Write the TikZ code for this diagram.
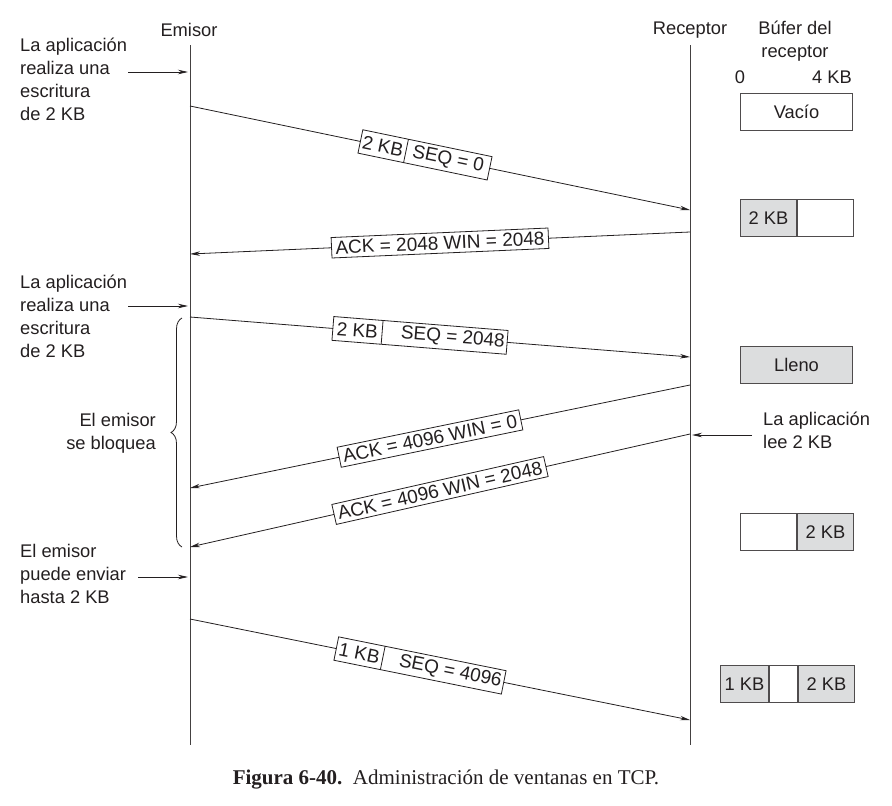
\documentclass[tikz,border=0pt]{standalone}
\usepackage{fontspec}
\setmainfont{Liberation Sans}
\newfontfamily\capfont{Liberation Serif}
\usetikzlibrary{arrows.meta, shapes.multipart, decorations.pathreplacing}
\definecolor{ink}{HTML}{231F20}
\definecolor{bufgray}{HTML}{DCDDDE}

\begin{document}
\begin{tikzpicture}[x=1pt, y=-1pt, >={Stealth[length=10pt, width=4.5pt]},
    font=\fontsize{18.3}{23}\selectfont, text=ink,
    life/.style={draw=ink!85, line width=0.9pt},
    msg/.style={->, draw=ink, line width=0.8pt},
    seg/.style={draw=ink, fill=white, sloped, font=\fontsize{19}{23}\selectfont, inner xsep=4pt, inner ysep=3.5pt, line width=0.8pt},
    pkt/.style={seg, inner xsep=2.5pt, rectangle split, rectangle split horizontal, rectangle split parts=2},
    note/.style={align=left, anchor=north west, inner sep=0pt},
    buf/.style={draw=ink!80, line width=1pt, minimum height=37pt, inner sep=0pt, anchor=north west}]

\useasboundingbox (0,0) rectangle (892,806);

% headers
\node (emi) at (189,30) {Emisor};
\node (rec) at (690,30) {Receptor};
\node[align=center] (buft) at (795,41) {Búfer del\\receptor};
\node (cero) at (740,77) {0};
\node[anchor=east, inner sep=0pt] (cuatro) at (852,77) {4 KB};

% lifelines
\coordinate (e0) at (190,45);
\coordinate (eN) at (190,745);
\coordinate (r0) at (690,45);
\coordinate (rN) at (690,745);
\draw[life] (e0) -- (eN);
\draw[life] (r0) -- (rN);

% message ends
\coordinate (e1) at (190,106);
\coordinate (r1) at (690,210);
\coordinate (r2) at (690,232);
\coordinate (e2) at (190,254);
\coordinate (e3) at (190,317);
\coordinate (r3) at (690,357);
\coordinate (r4) at (690,385);
\coordinate (e4) at (190,488);
\coordinate (r5) at (690,434);
\coordinate (e5) at (190,547);
\coordinate (e6) at (190,619);
\coordinate (r6) at (690,720);

\path
    (e1) edge[msg] node[pkt, pos=.47] {2 KB\nodepart{two}\makebox[80pt]{SEQ = 0}} (r1)
    (r2) edge[msg] node[seg, pos=.5] {ACK = 2048 WIN = 2048} (e2)
    (e3) edge[msg] node[pkt, pos=.46] {\makebox[44pt]{2 KB}\nodepart{two}\makebox[120pt][r]{SEQ = 2048}} (r3)
    (r4) edge[msg] node[seg, pos=.52] {ACK = 4096 WIN = 0} (e4)
    (r5) edge[msg] node[seg, pos=.5] {ACK = 4096 WIN = 2048} (e5)
    (e6) edge[msg] node[pkt, pos=.46] {\makebox[42pt]{1 KB}\nodepart{two}\makebox[118pt][r]{SEQ = 4096}} (r6)
;

% notes on the sender side
\node[note] (n1) at (20,38) {La aplicación\\realiza una\\escritura\\de 2 KB};
\coordinate (a1) at (128,72);
\coordinate (s1) at (188,72);
\draw[msg] (a1) -- (s1);

\node[note] (n2) at (20,275) {La aplicación\\realiza una\\escritura\\de 2 KB};
\coordinate (a2) at (128,306);
\coordinate (s2) at (188,306);
\draw[msg] (a2) -- (s2);

\coordinate (bb) at (182,547);
\coordinate (bt) at (182,318);
\draw[ink, line width=0.8pt, decorate, decoration={brace, amplitude=11pt}] (bb) -- (bt);
\node[align=right, anchor=east, inner sep=0pt] (blq) at (156,433) {El emisor\\se bloquea};

\node[note] (n3) at (20,544) {El emisor\\puede enviar\\hasta 2 KB};
\coordinate (a3) at (138,577);
\coordinate (s3) at (188,577);
\draw[msg] (a3) -- (s3);

% note on the receiver side
\node[note] (n4) at (763,412) {La aplicación\\lee 2 KB};
\coordinate (a4) at (752,435);
\coordinate (s4) at (692,435);
\draw[msg] (a4) -- (s4);

% receiver buffer
\node[buf, minimum width=112pt] (b1) at (740,93) {Vacío};
\node[buf, fill=bufgray, minimum width=56pt] (b2a) at (740,199) {2 KB};
\node[buf, minimum width=56pt] (b2b) at (b2a.north east) {};
\node[buf, fill=bufgray, minimum width=112pt] (b3) at (740,346) {Lleno};
\node[buf, minimum width=56pt] (b4a) at (740,513) {};
\node[buf, fill=bufgray, minimum width=56pt] (b4b) at (b4a.north east) {2 KB};
\node[buf, fill=bufgray, minimum width=48pt] (b5a) at (720,665) {1 KB};
\node[buf, minimum width=28pt] (b5b) at (b5a.north east) {};
\node[buf, fill=bufgray, minimum width=56pt] (b5c) at (b5b.north east) {2 KB};

% caption
\node[font=\capfont\fontsize{21}{25}\selectfont] (cap) at (446,780) {\textbf{Figura 6-40.}\ \ Administración de ventanas en TCP.};
\end{tikzpicture}
\end{document}
